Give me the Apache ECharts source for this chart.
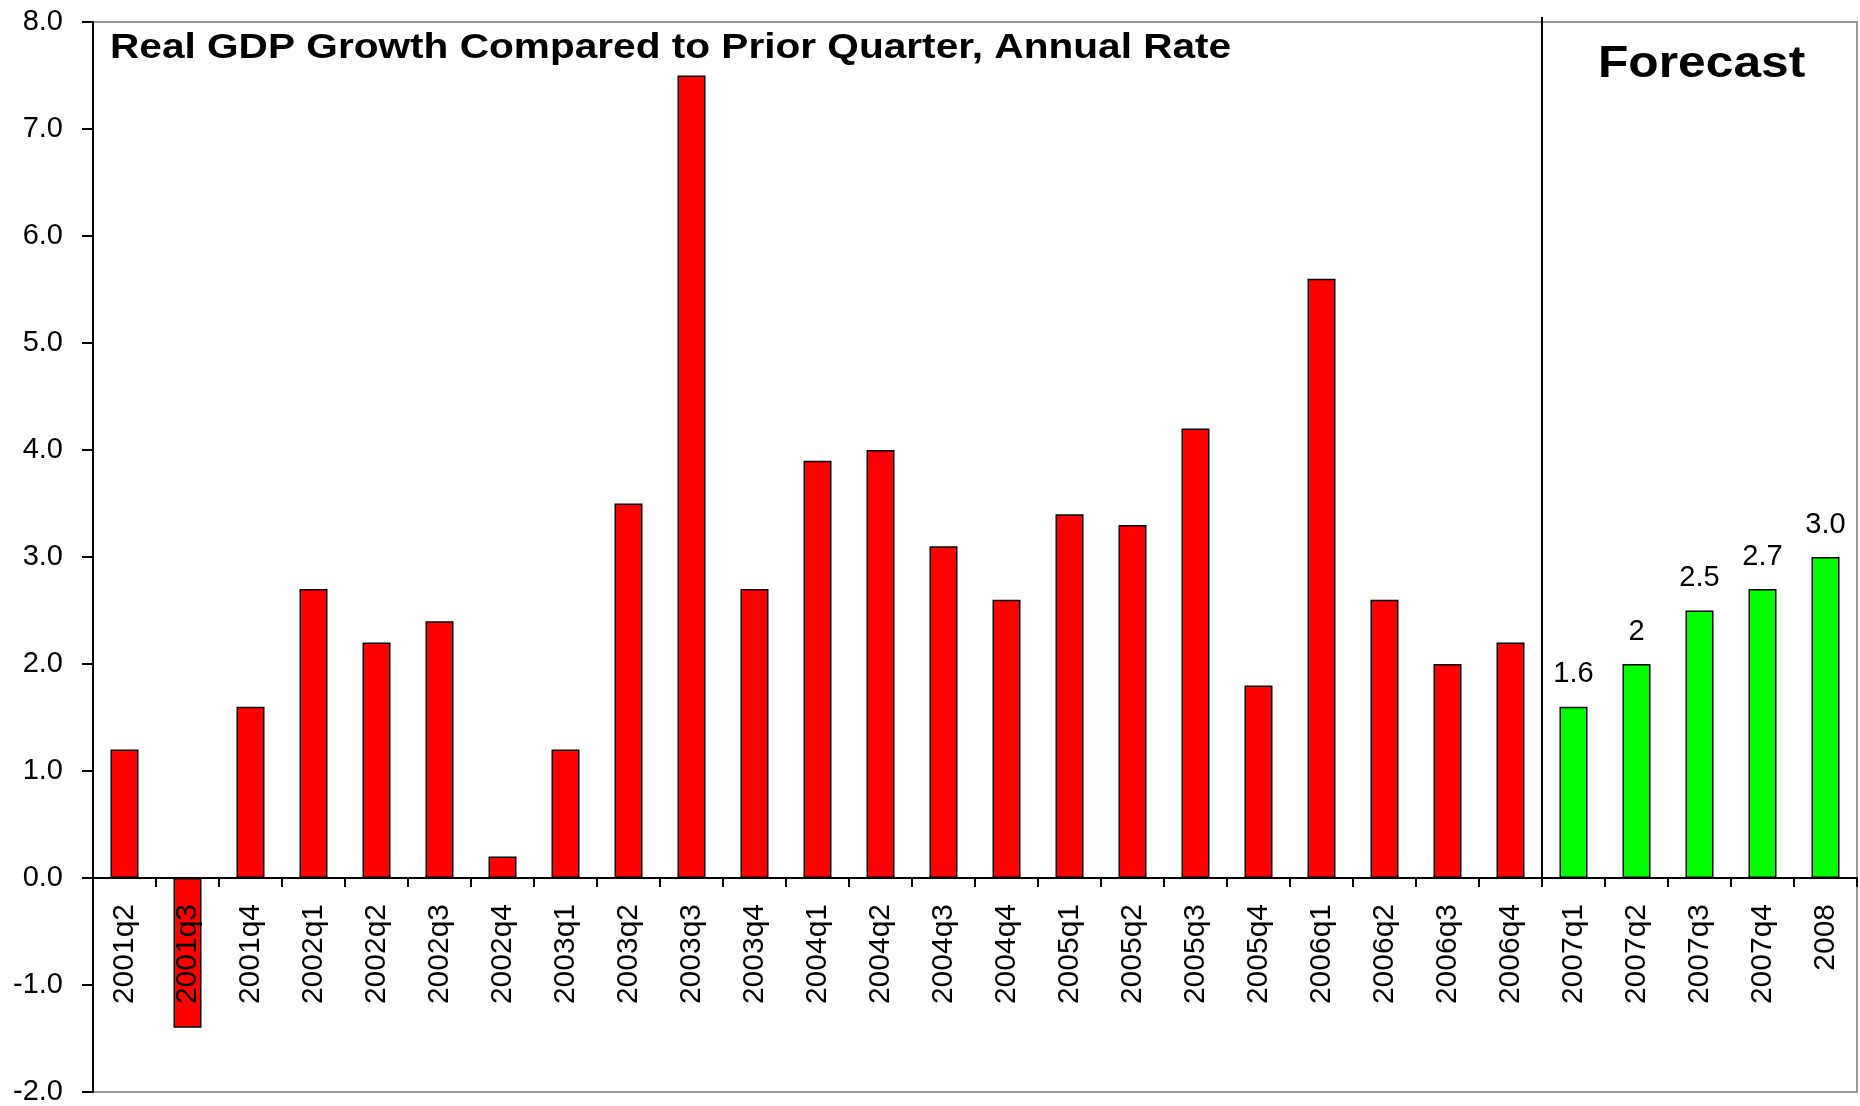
<!DOCTYPE html>
<html>
<head>
<meta charset="utf-8">
<script src="https://cdn.jsdelivr.net/npm/echarts@6/dist/echarts.min.js"></script>
<style>
  html, body { margin: 0; padding: 0; background: #fff; }
  #chart { width: 1860px; height: 1106px; }
</style>
</head>
<body>
<div id="chart"></div>
<script>
// quarters shown on the x axis
const categories = [
  '2001q2', '2001q3', '2001q4',
  '2002q1', '2002q2', '2002q3', '2002q4',
  '2003q1', '2003q2', '2003q3', '2003q4',
  '2004q1', '2004q2', '2004q3', '2004q4',
  '2005q1', '2005q2', '2005q3', '2005q4',
  '2006q1', '2006q2', '2006q3', '2006q4',
  '2007q1', '2007q2', '2007q3', '2007q4', '2008'
];

// actual growth (red)
const actual = [
  1.2, -1.4, 1.6,
  2.7, 2.2, 2.4, 0.2,
  1.2, 3.5, 7.5, 2.7,
  3.9, 4.0, 3.1, 2.6,
  3.4, 3.3, 4.2, 1.8,
  5.6, 2.6, 2.0, 2.2
];

// forecast (green)
const forecast = [1.6, 2.0, 2.5, 2.7, 3.0];
const forecastLabels = ['1.6', '2', '2.5', '2.7', '3.0'];

const yTicks = { min: -2, max: 8, interval: 1 };

const font = 'Liberation Sans, Arial, sans-serif';
const nActual = actual.length;

const actualData = categories.map((c, i) => (i < nActual ? actual[i] : null));
const forecastData = categories.map((c, i) => (i >= nActual ? forecast[i - nActual] : null));

const chart = echarts.init(document.getElementById('chart'), null, { renderer: 'canvas' });

const option = {
  backgroundColor: '#fff',
  animation: false,
  // the original text is a bit wider than plain Arial, so stretch it a little
  graphic: [
    {
      type: 'text',
      x: 110,
      y: 31,
      scaleX: 1.16,
      style: {
        text: 'Real GDP Growth Compared to Prior Quarter, Annual Rate',
        font: 'bold 35px ' + font,
        fill: '#000'
      }
    },
    {
      type: 'text',
      x: 1598,
      y: 43,
      scaleX: 1.13,
      style: {
        text: 'Forecast',
        font: 'bold 44px ' + font,
        fill: '#000'
      }
    }
  ],
  grid: {
    left: 93,
    right: 3,
    top: 22,
    bottom: 14,
    show: true,
    borderColor: '#999',
    borderWidth: 2,
    containLabel: false,
    outerBoundsMode: 'none'
  },
  xAxis: [
    {
      type: 'category',
      data: categories,
      position: 'bottom',
      offset: 0,
      z: 5, // labels sit on top of the negative bar
      axisLine: { onZero: false, lineStyle: { color: '#000', width: 2 } },
      axisTick: { show: true, length: 9, lineStyle: { color: '#000', width: 2 } },
      axisLabel: {
        rotate: 90,
        margin: 26,
        interval: 0,
        fontFamily: font,
        fontSize: 30,
        color: '#000'
      },
      splitLine: { show: false }
    },
    {
      type: 'value',
      min: 0,
      max: categories.length,
      show: false
    }
  ],
  yAxis: {
    type: 'value',
    min: yTicks.min,
    max: yTicks.max,
    interval: yTicks.interval,
    axisLine: { show: true, lineStyle: { color: '#000', width: 2 } },
    axisTick: { show: true, length: 11, lineStyle: { color: '#000', width: 2 } },
    axisLabel: {
      margin: 30,
      fontFamily: font,
      fontSize: 29,
      color: '#000',
      formatter: v => v.toFixed(1)
    },
    splitLine: { show: false }
  },
  series: [
    {
      name: 'Actual',
      type: 'bar',
      data: actualData,
      barWidth: 28,
      barGap: '-100%',
      itemStyle: { color: '#ff0000', borderColor: '#000', borderWidth: 1.5 },
      z: 1
    },
    {
      name: 'Forecast',
      type: 'bar',
      data: forecastData,
      barWidth: 28,
      barGap: '-100%',
      itemStyle: { color: '#00ff00', borderColor: '#000', borderWidth: 1.5 },
      label: {
        show: true,
        position: 'top',
        distance: 18,
        fontFamily: font,
        fontSize: 29,
        color: '#000',
        formatter: p => forecastLabels[p.dataIndex - nActual]
      },
      z: 1
    }
  ]
};

chart.setOption(option);

// move the category axis up to the zero line and draw the forecast divider,
// both placed through the chart's own scales
const zeroY = chart.convertToPixel({ yAxisIndex: 0 }, 0);
const bottomY = chart.convertToPixel({ yAxisIndex: 0 }, yTicks.min);
const topY = chart.convertToPixel({ yAxisIndex: 0 }, yTicks.max);
const divX = chart.convertToPixel({ xAxisIndex: 1 }, nActual);

option.xAxis[0].offset = -(bottomY - zeroY);
option.graphic.push({
  type: 'line',
  shape: { x1: divX, y1: topY - 5, x2: divX, y2: zeroY + 9 },
  style: { stroke: '#000', lineWidth: 2 },
  z: 10
});
chart.setOption(option);
</script>
</body>
</html>
